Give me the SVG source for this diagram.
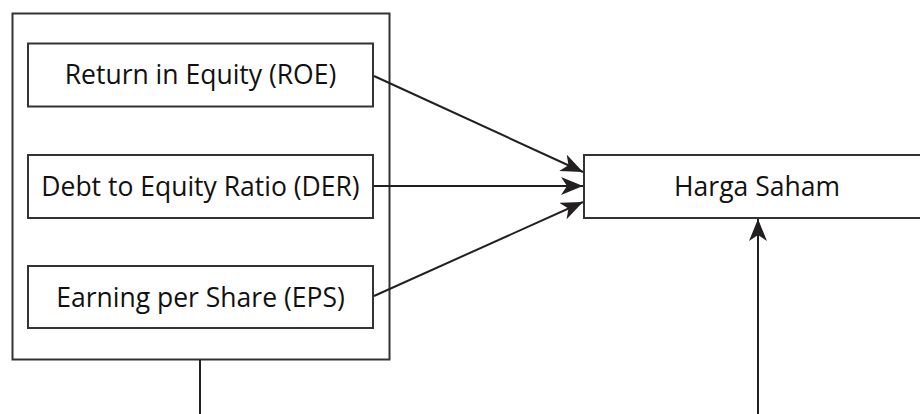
<svg xmlns="http://www.w3.org/2000/svg" width="920" height="414" viewBox="0 0 920 414">
  <style>
    .box { fill: #ffffff; stroke: #333333; stroke-width: 2; }
    .lbl { font-family: "Open Sans", "Liberation Sans", sans-serif; font-size: 26.5px; fill: #111111; text-anchor: middle; }
    .edge { fill: none; stroke: #231f20; stroke-width: 2; }
  </style>
  <defs>
    <!-- notched arrowhead shared by all connectors -->
    <marker id="arrow" viewBox="0 0 22 18" refX="22" refY="9" markerWidth="22" markerHeight="18" markerUnits="userSpaceOnUse" orient="auto">
      <path d="M0,0 L22,9 L0,18 L6,9 Z" fill="#231f20"/>
    </marker>
  </defs>

  <rect width="920" height="414" fill="#ffffff"/>

  <g id="group-ratios">
    <rect class="box" x="12.5" y="13.5" width="377" height="346"/>
  </g>

  <g id="node-roe">
    <rect class="box" x="28" y="43.5" width="345" height="63"/>
    <text class="lbl" x="200.5" y="84">Return in Equity (ROE)</text>
  </g>

  <g id="node-der">
    <rect class="box" x="28" y="155" width="345" height="63"/>
    <text class="lbl" x="200.5" y="196">Debt to Equity Ratio (DER)</text>
  </g>

  <g id="node-eps">
    <rect class="box" x="28" y="266" width="345" height="62"/>
    <text class="lbl" x="200.5" y="307">Earning per Share (EPS)</text>
  </g>

  <g id="node-harga">
    <rect class="box" x="584" y="155" width="345" height="63"/>
    <text class="lbl" x="757" y="196">Harga Saham</text>
  </g>

  <g id="connectors">
    <line class="edge" x1="374" y1="76" x2="583" y2="172" marker-end="url(#arrow)"/>
    <line class="edge" x1="374" y1="186" x2="583" y2="186" marker-end="url(#arrow)"/>
    <line class="edge" x1="374" y1="296" x2="583" y2="202" marker-end="url(#arrow)"/>
    <line class="edge" x1="200" y1="360" x2="200" y2="414"/>
    <line class="edge" x1="758" y1="414" x2="758" y2="219" marker-end="url(#arrow)"/>
  </g>
</svg>
